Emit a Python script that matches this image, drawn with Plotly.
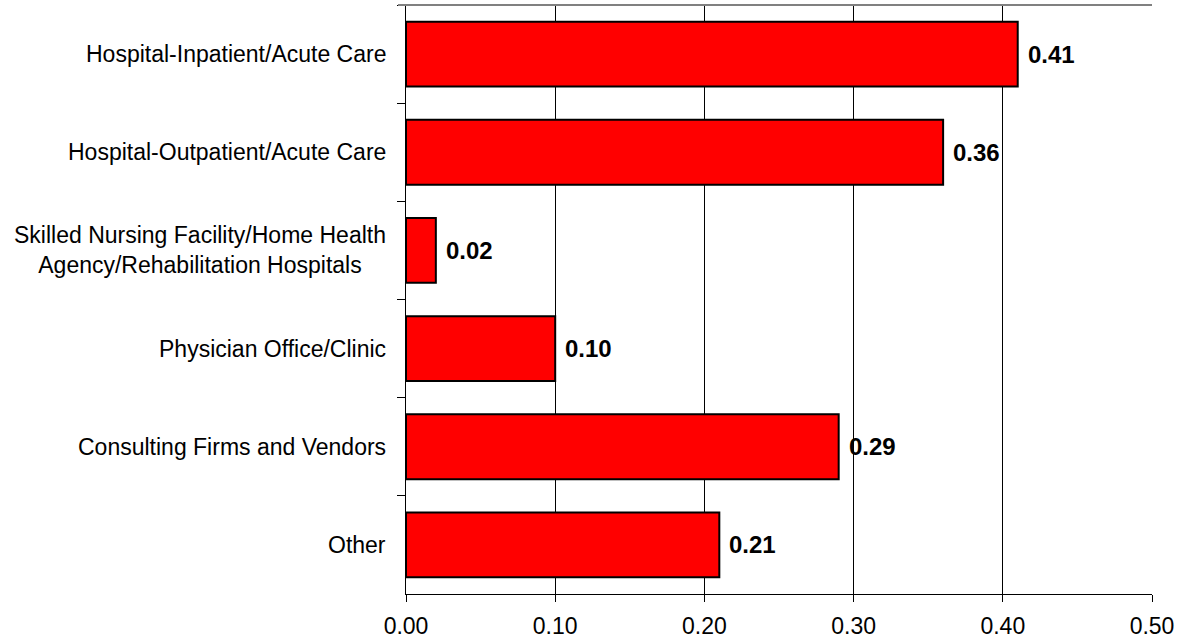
import plotly.graph_objects as go

# Share of respondents by work setting
categories = [
    "Hospital-Inpatient/Acute Care",
    "Hospital-Outpatient/Acute Care",
    "Skilled Nursing Facility/Home Health<br>Agency/Rehabilitation Hospitals",
    "Physician Office/Clinic",
    "Consulting Firms and Vendors",
    "Other",
]
values = [0.41, 0.36, 0.02, 0.10, 0.29, 0.21]
x_ticks = [0.0, 0.1, 0.2, 0.3, 0.4, 0.5]
x_tick_labels = ["0.00", "0.10", "0.20", "0.30", "0.40", "0.50"]

FONT = "Liberation Sans, Arial, sans-serif"

fig = go.Figure(
    go.Bar(
        y=categories,
        x=values,
        orientation="h",
        marker=dict(color="#FF0000", line=dict(color="black", width=2)),
        hoverinfo="x+y",
    )
)

annotations = []
# category labels, centred line by line, right-aligned against the axis
for cat in categories:
    annotations.append(dict(
        x=0, xref="paper", y=cat, yref="y",
        text=cat, showarrow=False, xanchor="right", yanchor="middle",
        align="center", xshift=-18,
        font=dict(family=FONT, size=23, color="black"),
    ))
# value labels at the end of each bar
for cat, v in zip(categories, values):
    annotations.append(dict(
        x=v, xref="x", y=cat, yref="y",
        text=f"<b>{v:.2f}</b>", showarrow=False, xanchor="left", yanchor="middle",
        xshift=8,
        font=dict(family=FONT, size=24, color="black"),
    ))

shapes = [
    # grey frame line along the top of the plot area
    dict(type="line", xref="paper", yref="paper", x0=-8 / 746, x1=1, y0=1, y1=1,
         line=dict(color="#808080", width=2), layer="above"),
]

fig.update_layout(
    width=1183, height=642,
    margin=dict(l=406, r=31, t=5, b=48),
    paper_bgcolor="white", plot_bgcolor="white",
    showlegend=False,
    bargap=0.34,
    annotations=annotations,
    shapes=shapes,
    font=dict(family=FONT, size=23, color="black"),
    xaxis=dict(
        range=[0, 0.5], tickvals=x_ticks, ticktext=x_tick_labels,
        showgrid=True, gridcolor="black", gridwidth=1,
        showline=True, linecolor="black", linewidth=1,
        ticks="outside", ticklen=7, tickcolor="black",
        ticklabelstandoff=4, automargin=False,
        zeroline=False, fixedrange=True,
        tickfont=dict(family=FONT, size=23, color="black"),
    ),
    yaxis=dict(
        categoryorder="array", categoryarray=categories, autorange="reversed",
        showticklabels=False, tickson="boundaries",
        ticks="outside", ticklen=8, tickcolor="black",
        showline=True, linecolor="black", linewidth=1,
        showgrid=False, zeroline=False, fixedrange=True, automargin=False,
    ),
)

fig.write_html("out.html")
